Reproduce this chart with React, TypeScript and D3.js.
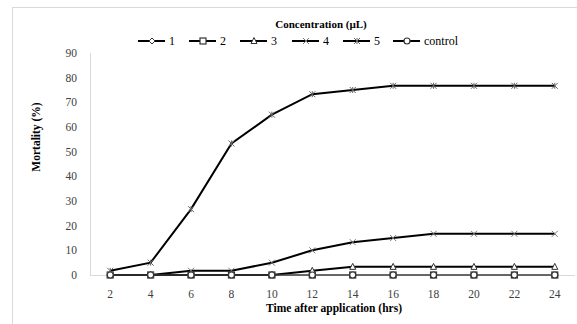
import React from 'react';
import * as d3 from 'd3';

const HOURS = ['2', '4', '6', '8', '10', '12', '14', '16', '18', '20', '22', '24'];
const Y_TICKS = [0, 10, 20, 30, 40, 50, 60, 70, 80, 90];
const SERIES_NAMES = ['1', '2', '3', '4', '5', 'control'];
const SYMBOLS = ['diamond', 'square', 'triangle', 'cross', 'asterisk', 'circle'];

const conc1 = [0, 0, 0, 0, 0, 0, 0, 0, 0, 0, 0, 0];
const conc2 = [0, 0, 0, 0, 0, 0, 0, 0, 0, 0, 0, 0];
const conc3 = [0, 0, 0, 0, 0, 1.7, 3.3, 3.3, 3.3, 3.3, 3.3, 3.3];
const conc4 = [0, 0, 1.7, 1.7, 5, 10, 13.3, 15, 16.7, 16.7, 16.7, 16.7];
const conc5 = [1.7, 5, 26.7, 53.3, 65, 73.3, 75, 76.7, 76.7, 76.7, 76.7, 76.7];
const control = [0, 0, 0, 0, 0, 0, 0, 0, 0, 0, 0, 0];
const ALL = [conc1, conc2, conc3, conc4, conc5, control];

const margin = { top: 53, right: 2, bottom: 49, left: 90 };
const W = 577;
const H = 324;
const font = "'Liberation Serif'";

function Marker({ kind, x, y }: { kind: string; x: number; y: number }) {
  const s = 3;
  if (kind === 'diamond')
    return <path d={`M${x},${y - s}L${x + s},${y}L${x},${y + s}L${x - s},${y}Z`} fill="#fff" stroke="#333" strokeWidth={1} />;
  if (kind === 'square')
    return <rect x={x - s} y={y - s} width={2 * s} height={2 * s} fill="#fff" stroke="#333" strokeWidth={1.2} />;
  if (kind === 'triangle')
    return <path d={`M${x},${y - s - 0.5}L${x + s},${y + s - 0.5}L${x - s},${y + s - 0.5}Z`} fill="#fff" stroke="#333" strokeWidth={1} />;
  if (kind === 'cross')
    return <path d={`M${x - s},${y - s}L${x + s},${y + s}M${x - s},${y + s}L${x + s},${y - s}`} stroke="#777" strokeWidth={1} />;
  if (kind === 'asterisk')
    return <path d={`M${x - s},${y - s}L${x + s},${y + s}M${x - s},${y + s}L${x + s},${y - s}M${x},${y - s}L${x},${y + s}`} stroke="#666" strokeWidth={1} />;
  return <circle cx={x} cy={y} r={s} fill="#fff" stroke="#333" strokeWidth={1.2} />;
}

export default function App() {
  const x = d3.scalePoint<string>().domain(HOURS).range([margin.left, W - margin.right]).padding(0.5);
  const y = d3.scaleLinear().domain([0, 90]).range([H - margin.bottom, margin.top]);
  const line = d3.line<number>().x((_, i) => x(HOURS[i]) as number).y(d => y(d));

  // legend line starts
  const legendX = [138, 189, 240, 292, 343, 393];
  const ts = { fontFamily: font };

  return (
    <svg width={W} height={H} style={{ position: 'absolute', left: 0, top: 0 }}>
      <rect x={12.5} y={7.5} width={W} height={H} fill="#fff" stroke="#d9d9d9" />
      <text x={321} y={28} textAnchor="middle" style={ts} fontWeight="bold" fontSize={11}>
        Concentration (µL)
      </text>
      {SERIES_NAMES.map((n, i) => (
        <g key={n}>
          <line x1={legendX[i]} x2={legendX[i] + 27} y1={41} y2={41} stroke="#000" strokeWidth={2} />
          <Marker kind={SYMBOLS[i]} x={legendX[i] + 14} y={41} />
          <text x={legendX[i] + 31} y={45} style={ts} fontSize={12}>{n}</text>
        </g>
      ))}
      <line x1={margin.left + 0.5} x2={margin.left + 0.5} y1={y(90)} y2={y(0)} stroke="#d9d9d9" />
      <line x1={margin.left} x2={W - margin.right} y1={y(0) + 0.5} y2={y(0) + 0.5} stroke="#d9d9d9" />
      {Y_TICKS.map(t => (
        <text key={t} x={77} y={y(t) + 4} textAnchor="end" style={ts} fontSize={11.5} fill="#404040">{t}</text>
      ))}
      {HOURS.map(h => (
        <text key={h} x={x(h)} y={298} textAnchor="middle" style={ts} fontSize={11.5} fill="#404040">{h}</text>
      ))}
      <text x={334} y={312} textAnchor="middle" style={ts} fontWeight="bold" fontSize={11.5}>
        Time after application (hrs)
      </text>
      <text transform={`translate(40,137) rotate(-90)`} textAnchor="middle" style={ts} fontWeight="bold" fontSize={11.5}>
        Mortality (%)
      </text>
      {ALL.map((vals, si) => {
        const zero = vals.every(v => v === 0);
        return (
          <path key={si} d={line(vals) || ''} fill="none" stroke={zero ? '#555' : '#000'} strokeWidth={zero ? 1 : 2} />
        );
      })}
      {ALL.map((vals, si) => (
        <g key={'m' + si}>
          {vals.map((v, i) => <Marker key={i} kind={SYMBOLS[si]} x={x(HOURS[i]) as number} y={y(v)} />)}
        </g>
      ))}
    </svg>
  );
}
